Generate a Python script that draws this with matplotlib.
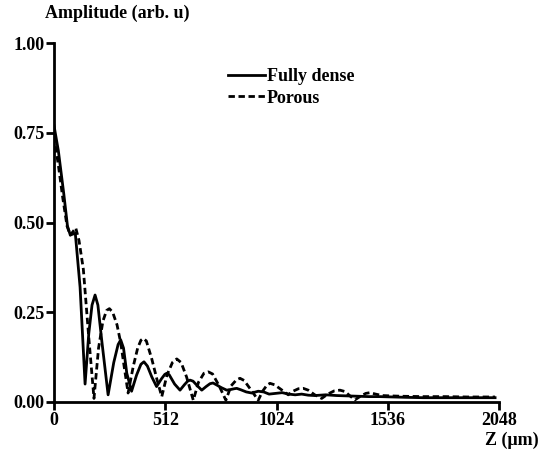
import matplotlib
matplotlib.use("Agg")
import matplotlib.pyplot as plt

# ---------- data -------------------------------------------------------------
dense_z = [0, 20, 45, 62, 75, 88, 98, 120, 143, 160, 175, 189, 202, 220, 249,
           275, 295, 307, 320, 335, 357, 380, 400, 414, 430, 450, 472, 495,
           510, 519, 530, 555, 580, 600, 615, 626, 640, 660, 680, 700, 718,
           732, 750, 770, 795, 815, 830, 841, 860, 885, 910, 940, 965, 990,
           1020, 1050, 1080, 1110, 1140, 1170, 1200, 1250, 1300, 1350, 1400,
           1450, 1500, 1560, 1620, 1700, 1800, 1900, 2000, 2030]
dense_amp = [0.77, 0.70, 0.58, 0.49, 0.465, 0.468, 0.47, 0.32, 0.05, 0.19,
             0.27, 0.298, 0.27, 0.17, 0.02, 0.11, 0.16, 0.173, 0.15, 0.08,
             0.03, 0.075, 0.105, 0.112, 0.10, 0.07, 0.043, 0.065, 0.077,
             0.08, 0.076, 0.05, 0.033, 0.048, 0.058, 0.061, 0.058, 0.045,
             0.033, 0.043, 0.051, 0.053, 0.047, 0.04, 0.033, 0.035, 0.037,
             0.038, 0.034, 0.028, 0.025, 0.03, 0.028, 0.022, 0.024, 0.026,
             0.022, 0.02, 0.022, 0.019, 0.018, 0.02, 0.018, 0.017, 0.016,
             0.015, 0.015, 0.014, 0.013, 0.012, 0.012, 0.012, 0.012, 0.012]

porous_z = [0, 20, 40, 60, 75, 88, 100, 115, 135, 160, 184, 205, 225, 242,
            255, 270, 290, 307, 325, 341, 365, 385, 400, 411, 425, 450, 475,
            496, 520, 545, 565, 585, 610, 641, 665, 690, 710, 730, 760, 791,
            815, 840, 856, 875, 905, 940, 960, 980, 994, 1015, 1045, 1078,
            1100, 1125, 1147, 1170, 1200, 1232, 1260, 1290, 1316, 1340, 1360,
            1385, 1410, 1435, 1454, 1480, 1510, 1550, 1600, 1700, 1800, 1900,
            2000, 2030]
porous_amp = [0.74, 0.66, 0.57, 0.49, 0.465, 0.475, 0.485, 0.45, 0.37, 0.18,
              0.01, 0.15, 0.225, 0.255, 0.26, 0.25, 0.215, 0.165, 0.09, 0.025,
              0.10, 0.15, 0.172, 0.177, 0.17, 0.12, 0.06, 0.015, 0.075, 0.11,
              0.12, 0.11, 0.07, 0.005, 0.055, 0.08, 0.084, 0.078, 0.045,
              0.005, 0.045, 0.062, 0.066, 0.06, 0.035, 0.005, 0.03, 0.047,
              0.052, 0.048, 0.035, 0.02, 0.03, 0.037, 0.038, 0.033, 0.02,
              0.01, 0.022, 0.031, 0.033, 0.029, 0.018, 0.006, 0.016, 0.024,
              0.026, 0.022, 0.018, 0.017, 0.016, 0.015, 0.015, 0.014, 0.014,
              0.014]

x_ticks = [0, 512, 1024, 1536, 2048]
y_ticks = [0.0, 0.25, 0.5, 0.75, 1.0]

# ---------- style --------------------------------------------------------------
plt.rcParams["font.family"] = ["Liberation Serif", "DejaVu Serif"]
plt.rcParams["font.weight"] = "bold"
plt.rcParams["font.size"] = 13

fig = plt.figure(figsize=(5.41, 4.57), dpi=100)
ax = fig.add_axes([54 / 541, 55 / 457, 445 / 541, 359 / 457])

ax.plot(dense_z, dense_amp, color="black", lw=2.0, label="Fully dense")
ax.plot(porous_z, porous_amp, color="black", lw=2.0, ls=(0, (2.3, 1.3)),
        label="Porous")

ax.set_xlim(0, 2048)
ax.set_ylim(0, 1.0)
ax.set_xticks(x_ticks)
ax.set_yticks(y_ticks)
ax.set_xticklabels([str(t) for t in x_ticks])
ax.set_yticklabels([f"{t:.2f}" for t in y_ticks])

for s in ("top", "right"):
    ax.spines[s].set_visible(False)
for s in ("left", "bottom"):
    ax.spines[s].set_linewidth(2)
ax.tick_params(direction="out", length=6, width=2, pad=1)

ax.legend(loc="upper left", bbox_to_anchor=(0.39, 0.93), frameon=False,
          borderpad=0, borderaxespad=0, handlelength=2.05, handletextpad=0.12,
          labelspacing=0.25, fontsize=13)

fig.text(45 / 541, 1 - 13 / 457, "Amplitude (arb. u)", ha="left", va="center",
         fontsize=13)
fig.text(539 / 541, 1 - 440 / 457, "Z (\u03bcm)", ha="right", va="center",
         fontsize=13)

fig.savefig("out.png", dpi=100)
